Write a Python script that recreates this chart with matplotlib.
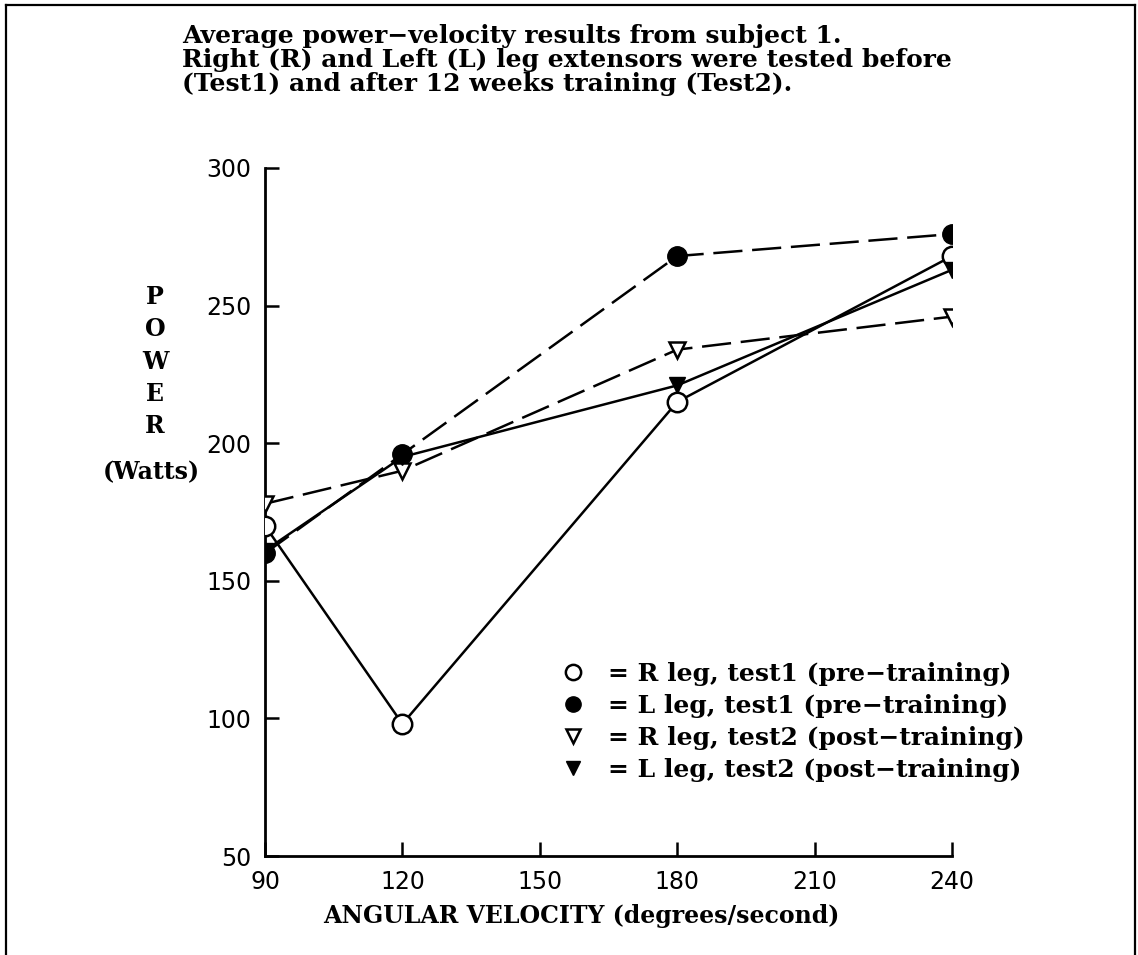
import matplotlib
matplotlib.use("Agg")
import matplotlib.pyplot as plt
from matplotlib.lines import Line2D

# Angular velocity (degrees/second)
velocity = [90, 120, 180, 240]

# Average power (Watts) per leg and test
r_test1 = [170, 98, 215, 268]
l_test1 = [160, 196, 268, 276]
r_test2 = [178, 190, 234, 246]
l_test2 = [161, 195, 221, 263]

labels = [
    "= R leg, test1 (pre\u2212training)",
    "= L leg, test1 (pre\u2212training)",
    "= R leg, test2 (post\u2212training)",
    "= L leg, test2 (post\u2212training)",
]

x_ticks = [90, 120, 150, 180, 210, 240]
y_ticks = [50, 100, 150, 200, 250, 300]

title_lines = [
    "Average power\u2212velocity results from subject 1.",
    "Right (R) and Left (L) leg extensors were tested before",
    "(Test1) and after 12 weeks training (Test2).",
]

serif = "DejaVu Serif"
sans = "DejaVu Sans"

W, H = 1138, 955
fig = plt.figure(figsize=(W / 100, H / 100), dpi=100)
fig.patch.set_facecolor("white")


def fx(px):
    return px / W


def fy(py):
    return 1 - py / H


# frame: top, left and right edges
for xs, ys in (([6, 1135], [5, 5]), ([6, 6], [5, H]), ([1135, 1135], [5, H])):
    fig.add_artist(Line2D([fx(v) for v in xs], [fy(v) for v in ys],
                          transform=fig.transFigure, color="black", lw=1.6))

ax = fig.add_axes([fx(265), fy(856), 687 / W, 688 / H])

lw = 1.8
dash = (21 / lw, 7 / lw)

ax.plot(velocity, r_test1, color="black", lw=lw, marker="o", ms=14,
        mfc="white", mec="black", mew=1.8, zorder=3)
ax.plot(velocity, l_test1, color="black", lw=lw, dashes=dash, marker="o", ms=14,
        mfc="black", mec="black", zorder=3)
ax.plot(velocity, r_test2, color="black", lw=lw, dashes=dash, marker="v", ms=12,
        mfc="white", mec="black", mew=1.8, zorder=3)
ax.plot(velocity, l_test2, color="black", lw=lw, marker="v", ms=12,
        mfc="black", mec="black", zorder=3)

ax.set_xlim(90, 240)
ax.set_ylim(50, 300)
ax.set_xticks(x_ticks)
ax.set_yticks(y_ticks)
for s in ("top", "right"):
    ax.spines[s].set_visible(False)
for s in ("left", "bottom"):
    ax.spines[s].set_linewidth(2)
ax.tick_params(direction="in", length=10, width=1.8, labelsize=17, pad=10)
for t in ax.get_xticklabels() + ax.get_yticklabels():
    t.set_fontfamily(sans)

txt = dict(family=serif, fontweight="bold")

fig.text(fx(581), fy(923), "ANGULAR VELOCITY (degrees/second)", fontsize=17,
         ha="center", va="baseline", **txt)

# stacked vertical axis title
for i, ch in enumerate("POWER"):
    fig.text(fx(155), fy(297 + i * 32.3), ch, fontsize=17, ha="center", va="center", **txt)
fig.text(fx(151), fy(472), "(Watts)", fontsize=17, ha="center", va="center", **txt)

for i, line in enumerate(title_lines):
    fig.text(fx(182), fy(43 + i * 24), line, fontsize=18, ha="left", va="baseline", **txt)

handles = [
    Line2D([], [], ls="none", marker="o", ms=11, mfc="white", mec="black", mew=1.8),
    Line2D([], [], ls="none", marker="o", ms=11, mfc="black", mec="black"),
    Line2D([], [], ls="none", marker="v", ms=10, mfc="white", mec="black", mew=1.8),
    Line2D([], [], ls="none", marker="v", ms=10, mfc="black", mec="black"),
]
leg = ax.legend(handles, labels, loc="upper left", bbox_to_anchor=(0.415, 0.30),
                frameon=False, handlelength=0.8, handletextpad=1.0, labelspacing=0.32,
                borderpad=0, prop={"family": serif, "weight": "bold", "size": 18})

fig.savefig("out.png", dpi=100, facecolor="white")
